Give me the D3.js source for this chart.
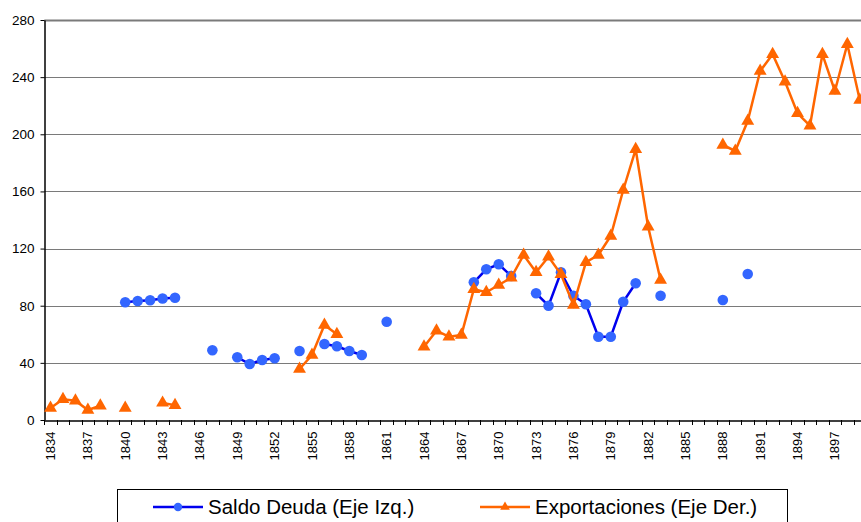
<!DOCTYPE html>
<html>
<head>
<meta charset="utf-8">
<script src="https://cdn.jsdelivr.net/npm/d3@7"></script>
<style>
    body { margin: 0; background: #fff; }
    svg { display: block; font-family: "Liberation Sans", Arial, sans-serif; }
</style>
</head>
<body>
<div id="chart"></div>
<script>
// years 1834..1899, null = no data
const years = d3.range(1834, 1900);
const labelYears = d3.range(1834, 1900, 3);
const yTicks = [0, 40, 80, 120, 160, 200, 240, 280];

const saldoDeuda = [
    null, null, null, null, null, null,      // 1834-1839
    82.4, 83.3, 83.8, 85, 85.6,              // 1840-1844
    null, null, 48.8, null,                  // 1845-1848
    43.9, 39.2, 42, 43.2, null,              // 1849-1853
    48.3, null, 53.2, 51.6, 48.3, 45.5,      // 1854-1859
    null, 68.8, null, null, null, null,      // 1860-1865
    null, null, 96.4, 105.5, 109, 100.8,     // 1866-1871
    null, 88.7, 80, 103.4, 87, 81,           // 1872-1877
    58.3, 58.3, 82.8, 95.7, null, 87,        // 1878-1883
    null, null, null, null, 84, null, 102.2, // 1884-1890
    null, null, null, null, null, null, null, null, null // 1891-1899
];

const exportaciones = [
    8.4, 14.5, 13.5, 7, 10, null,            // 1834-1839
    8.4, null, null, 12, 10.3,               // 1840-1844
    null, null, null, null, null, null, null, null, null, // 1845-1853
    35.7, 45.5, 66.5, 60,                    // 1854-1857
    null, null, null, null, null, null,      // 1858-1863
    51.3, 62.5, 58.3, 59.5, 91.5, 89.4,      // 1864-1869
    94.5, 99.6, 115.5, 103.4, 114.3, 102,    // 1870-1875
    80.5, 110.4, 115.5, 128.8, 161, 189.5,   // 1876-1881
    135.3, 98,                               // 1882-1883
    null, null, null, null,                  // 1884-1887
    192.5, 188.3, 209.3, 244.3, 256, 236.8,  // 1888-1893
    214.7, 206, 256, 230.3, 263, 224         // 1894-1899
];

const width = 861, height = 522;
const plotLeft = 44.3, band = 12.45, plotTop = 20, plotBottom = 420;

const svg = d3.select("#chart").append("svg")
    .attr("width", width)
    .attr("height", height);

const x = d3.scaleBand()
    .domain(years)
    .range([plotLeft, plotLeft + band * years.length])
    .padding(0);

const y = d3.scaleLinear()
    .domain([0, 280])
    .range([plotBottom, plotTop]);

// gridlines
svg.append("g")
    .selectAll("line")
    .data(yTicks.filter(d => d > 0))
    .enter()
    .append("line")
    .attr("x1", plotLeft)
    .attr("x2", x.range()[1])
    .attr("y1", d => Math.round(y(d)) + 0.5)
    .attr("y2", d => Math.round(y(d)) + 0.5)
    .attr("stroke", "#7a7a7a")
    .attr("stroke-width", d => d === 280 ? 2 : 1);

// y axis
const yAxis = svg.append("g")
    .attr("transform", "translate(" + (Math.round(plotLeft) + 0.5) + ",0)")
    .call(d3.axisLeft(y).tickValues(yTicks).tickSize(4).tickPadding(6).tickSizeOuter(0));
yAxis.select(".domain").attr("stroke", "#000").attr("stroke-width", 1.5);
yAxis.selectAll("text").attr("font-size", 13.5).attr("fill", "#000")
    .attr("font-family", "'Liberation Sans', Arial, sans-serif");

// x axis: labels every 3 years, tick marks between categories
const xAxis = svg.append("g")
    .attr("transform", "translate(0," + (plotBottom + 0.5) + ")")
    .call(d3.axisBottom(x).tickValues(labelYears).tickSize(0).tickSizeOuter(0));
xAxis.select(".domain").attr("stroke", "#000").attr("stroke-width", 1.5);
xAxis.selectAll("text")
    .attr("transform", "rotate(-90)")
    .attr("text-anchor", "end")
    .attr("x", -11)
    .attr("y", 0)
    .attr("dy", "0.35em")
    .attr("font-size", 13)
    .attr("fill", "#000")
    .attr("font-family", "'Liberation Sans', Arial, sans-serif");

svg.append("g")
    .selectAll("line")
    .data(years)
    .enter()
    .append("line")
    .attr("x1", d => Math.round(x(d)) + 0.5)
    .attr("x2", d => Math.round(x(d)) + 0.5)
    .attr("y1", plotBottom)
    .attr("y2", plotBottom + 5)
    .attr("stroke", "#000");

const lineGen = d3.line()
    .defined(d => d.v !== null)
    .x(d => x(d.year) + x.bandwidth() / 2)
    .y(d => y(d.v));

const deudaData = years.map((yr, i) => ({year: yr, v: saldoDeuda[i]}));
const exportData = years.map((yr, i) => ({year: yr, v: exportaciones[i]}));

// Saldo Deuda
svg.append("path")
    .datum(deudaData)
    .attr("fill", "none")
    .attr("stroke", "#0000ee")
    .attr("stroke-width", 2.5)
    .attr("d", lineGen);

svg.append("g")
    .selectAll("circle")
    .data(deudaData.filter(d => d.v !== null))
    .enter()
    .append("circle")
    .attr("cx", d => x(d.year) + x.bandwidth() / 2)
    .attr("cy", d => y(d.v))
    .attr("r", 5.3)
    .attr("fill", "#3366ff");

// Exportaciones
svg.append("path")
    .datum(exportData)
    .attr("fill", "none")
    .attr("stroke", "#ff6600")
    .attr("stroke-width", 2.5)
    .attr("d", lineGen);

const tri = d3.symbol().type(d3.symbolTriangle).size(72);
svg.append("g")
    .selectAll("path")
    .data(exportData.filter(d => d.v !== null))
    .enter()
    .append("path")
    .attr("transform", d => "translate(" + (x(d.year) + x.bandwidth() / 2) + "," + y(d.v) + ")")
    .attr("d", tri)
    .attr("fill", "#ff6600");

// legend
const legend = svg.append("g");
legend.append("rect")
    .attr("x", 117.5)
    .attr("y", 489.5)
    .attr("width", 670)
    .attr("height", 50)
    .attr("fill", "#fff")
    .attr("stroke", "#000");

const legendTri = d3.symbol().type(d3.symbolTriangle).size(40);
const legendItems = [
    {label: "Saldo Deuda (Eje Izq.)", color: "#0000ee", marker: "#3366ff", shape: "circle", x: 153},
    {label: "Exportaciones (Eje Der.)", color: "#ff6600", marker: "#ff6600", shape: "triangle", x: 480}
];
legendItems.forEach(item => {
    const g = legend.append("g").attr("transform", "translate(" + item.x + ",507)");
    g.append("line")
        .attr("x1", 0).attr("x2", 50)
        .attr("stroke", item.color)
        .attr("stroke-width", 2.5);
    if (item.shape === "circle") {
        g.append("circle").attr("cx", 25).attr("r", 4.2).attr("fill", item.marker);
    } else {
        g.append("path").attr("transform", "translate(25,0)").attr("d", legendTri).attr("fill", item.marker);
    }
    g.append("text")
        .attr("x", 55)
        .attr("dy", "0.35em")
        .attr("font-size", 20.5)
        .attr("fill", "#000")
        .text(item.label);
});
</script>
</body>
</html>
